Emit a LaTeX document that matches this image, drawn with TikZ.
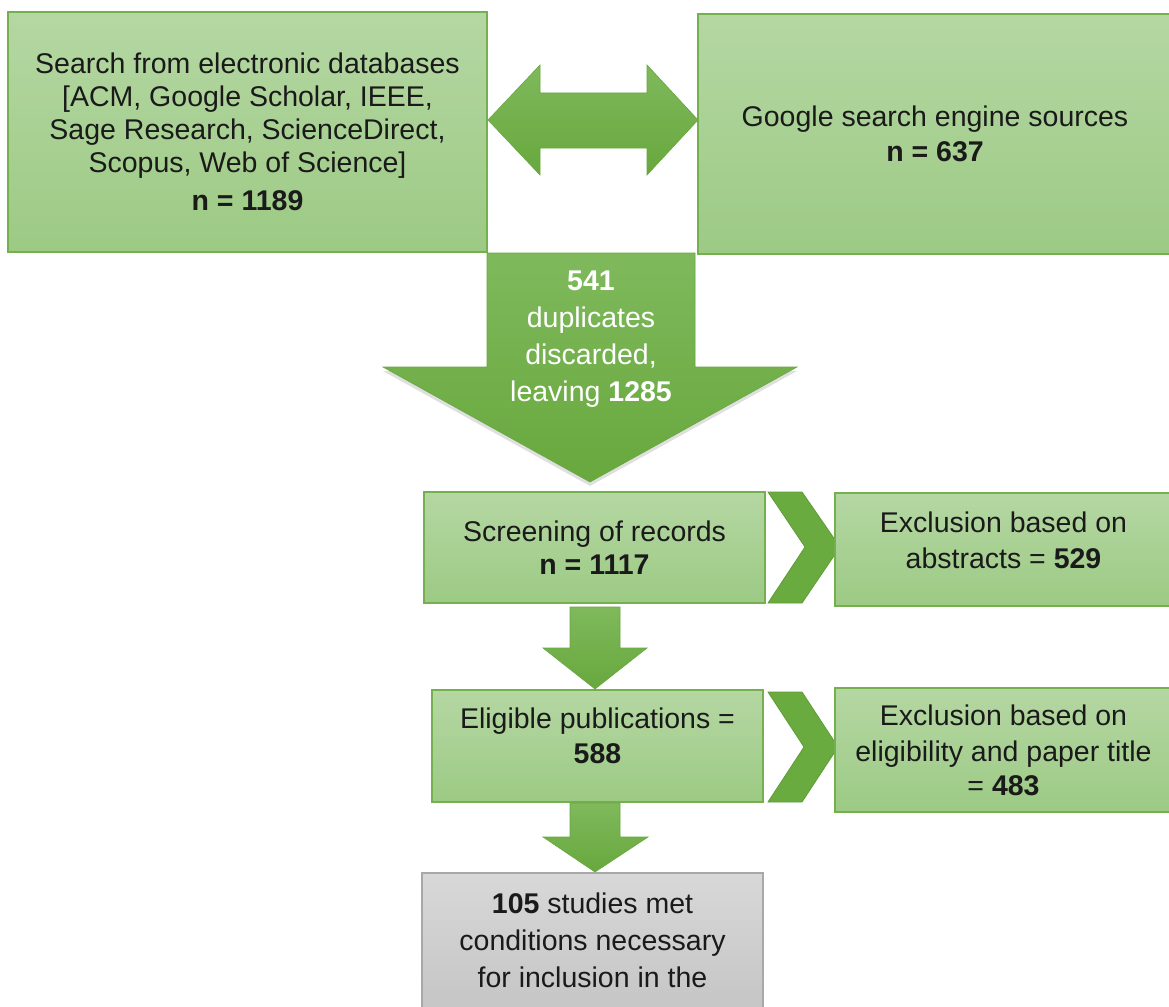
\documentclass[tikz,border=0pt]{standalone}
\usepackage{fontspec}
\setmainfont{Liberation Sans}
\usetikzlibrary{shadows}
\definecolor{boxtop}{HTML}{B5D7A3}
\definecolor{boxbot}{HTML}{9CCA84}
\definecolor{boxline}{HTML}{74B04D}
\definecolor{arrtop}{HTML}{7FB95C}
\definecolor{arrbot}{HTML}{68A83D}
\definecolor{chev}{HTML}{6AAB40}
\definecolor{chevline}{HTML}{5F9C38}
\definecolor{graytop}{HTML}{D8D8D8}
\definecolor{graybot}{HTML}{C2C2C2}
\definecolor{grayline}{HTML}{A8A8A8}
\definecolor{ink}{HTML}{1A1A1A}
\begin{document}
\begin{tikzpicture}[x=1pt,y=-1pt,
  txt/.style={align=center, inner sep=0pt, text=ink, font=\fontsize{28.5}{33}\selectfont},
  gbox/.style={txt, rectangle, draw=boxline, line width=1.3pt, top color=boxtop, bottom color=boxbot},
  graybox/.style={rectangle, draw=grayline, line width=1.3pt, top color=graytop, bottom color=graybot},
  blockarrow/.style={draw=arrbot, line width=0.6pt, top color=arrtop, bottom color=arrbot},
  chevron/.style={fill=chev, draw=chevline, line width=0.8pt}
]
\useasboundingbox (0,0) rectangle (1169,1006);
\clip (0,0) rectangle (1169,1006);
\fill[white] (0,0) rectangle (1169,1006);

% top boxes
\node[gbox, minimum width=479pt, minimum height=240pt] (db) at (247.5,132)
  {Search from electronic databases\\{}[ACM, Google Scholar, IEEE,\\Sage Research, ScienceDirect,\\Scopus, Web of Science]\\[5pt]\textbf{n = 1189}};
\node[gbox, minimum width=474pt, minimum height=240pt] (gs) at (935,134)
  {Google search engine sources\\[2.5pt]\textbf{n = 637}};

% double arrow between them
\path[blockarrow] (488,120) -- (540,65) -- (540,93) -- (647,93) -- (647,65) -- (698,120)
  -- (647,175) -- (647,148) -- (540,148) -- (540,175) -- cycle;

% big down arrow
\path[blockarrow, drop shadow={shadow xshift=0pt, shadow yshift=-4pt, opacity=0.25}]
  (487,253) -- (695,253) -- (695,367) -- (797,367) -- (590,482) -- (383,367) -- (487,367) -- cycle;
\node[txt, text=white] (dup) at (591,339)
  {\textbf{541}\\[4pt]duplicates\\[4pt]discarded,\\[4pt]leaving \textbf{1285}};

% screening row
\node[gbox, minimum width=341pt, minimum height=111pt] (scr) at (594.5,547.5)
  {Screening of records\\\textbf{n = 1117}};
\path[chevron] (768,492) -- (802,492) -- (840,547) -- (802,603) -- (768,603) -- (805,547) -- cycle;
\node[gbox, minimum width=337pt, minimum height=113pt] (ex1) at (1003.5,549.5) {};
\node[txt] (ex1t) at ([yshift=9pt]ex1.center)
  {Exclusion based on\\[3pt]abstracts = \textbf{529}};

% arrow to eligible
\path[blockarrow] (570,607) -- (620,607) -- (620,648) -- (647,648) -- (595,689) -- (543,648) -- (570,648) -- cycle;

% eligible row
\node[gbox, minimum width=331pt, minimum height=112pt] (elig) at (597.5,746) {};
\node[txt] (eligt) at ([yshift=10pt]elig.center)
  {Eligible publications =\\[2pt]\textbf{588}};
\path[chevron] (768,692) -- (802,692) -- (838,747) -- (802,802) -- (768,802) -- (804,747) -- cycle;
\node[gbox, minimum width=337pt, minimum height=124pt] (ex2) at (1003.5,750)
  {Exclusion based on\\[3pt]eligibility and paper title\\[1pt]= \textbf{483}};

% arrow to inclusion
\path[blockarrow] (570,803) -- (620,803) -- (620,837) -- (648,837) -- (595,872) -- (543,837) -- (570,837) -- cycle;

% inclusion box (cut off at bottom)
\node[graybox, minimum width=341pt, minimum height=160pt] (incl) at (592.5,953) {};
\node[txt, anchor=north] (incltxt) at (592.5,893)
  {\textbf{105} studies met\\[4pt]conditions necessary\\[4pt]for inclusion in the};
\end{tikzpicture}
\end{document}
